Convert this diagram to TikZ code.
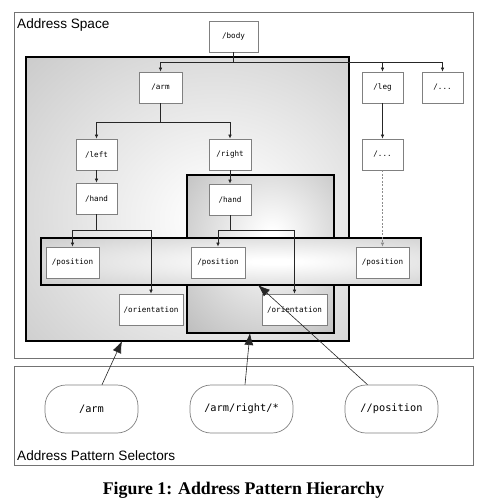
\documentclass[tikz,border=0pt]{standalone}
\usepackage{fontspec}
\setmainfont{Liberation Serif}
\setsansfont{Liberation Sans}
\setmonofont{DejaVu Sans Mono}
\usetikzlibrary{arrows.meta}
\definecolor{shW}{gray}{1}
\definecolor{shA}{gray}{0.78}
\definecolor{shB}{gray}{0.70}
\definecolor{shC}{gray}{0.72}
\definecolor{shD}{gray}{0.63}
\definecolor{boxline}{gray}{0.5}
\definecolor{frameline}{gray}{0.45}
\pgfdeclareradialshading{bigshade}{\pgfpoint{6bp}{-4bp}}{color(0bp)=(shW); color(3bp)=(shW); color(42bp)=(shA); color(75bp)=(shB)}
\pgfdeclareradialshading{rightshade}{\pgfpoint{4bp}{6bp}}{color(0bp)=(shW); color(2bp)=(shW); color(42bp)=(shC); color(75bp)=(shD)}
\pgfdeclareradialshading{posshade}{\pgfpoint{6bp}{0bp}}{color(0bp)=(shW); color(3bp)=(shW); color(42bp)=(shA); color(75bp)=(shB)}
\begin{document}
\begin{tikzpicture}[x=1pt,y=-1pt,
  frame/.style={draw=frameline,line width=0.6pt},
  region/.style={draw=black,line width=1.6pt,shade,inner sep=0pt,outer sep=0pt},
  abox/.style={draw=boxline,fill=white,line width=0.8pt,inner sep=0pt,minimum height=31pt,font=\ttfamily\fontsize{7.6}{9}\selectfont},
  selbox/.style={draw=boxline,fill=white,line width=0.7pt,rounded corners=21pt,inner sep=0pt,minimum height=48pt,font=\ttfamily\fontsize{10.3}{12}\selectfont},
  treeline/.style={draw=black!85,line width=0.6pt},
  treearrow/.style={treeline,-{Latex[length=4pt,width=3.6pt]}},
  bigarrow/.style={draw=black!85,line width=0.6pt,-{Latex[length=12pt,width=9pt]}},
  flabel/.style={anchor=base west,inner sep=0pt,font=\sffamily\fontsize{13.6}{15}\selectfont}]
\useasboundingbox (0,0) rectangle (504,498);
\fill[white] (0,0) rectangle (504,498);
% frames
\node[frame,minimum width=459pt,minimum height=346pt,inner sep=0pt] (space) at (243.5,185) {};
\node[frame,minimum width=459pt,minimum height=99pt,inner sep=0pt] (selectors) at (243.5,415.5) {};
\node[flabel] (spacelabel) at (17,28) {Address Space};
\node[flabel] (sellabel) at (17,460) {Address Pattern Selectors};
% regions
\node[region,shading=bigshade,minimum width=323pt,minimum height=284pt] (big) at (187.5,199) {};
\node[region,shading=rightshade,minimum width=147pt,minimum height=158pt] (rightreg) at (260.5,254) {};
\node[region,shading=posshade,minimum width=380pt,minimum height=47pt] (posreg) at (231,261.5) {};
% boxes
\node[abox,minimum width=49pt] (body) at (233.5,36.5) {/body};
\node[abox,minimum width=43pt] (arm) at (160.5,87.5) {/arm};
\node[abox,minimum width=41pt] (leg) at (382.5,87.5) {/leg};
\node[abox,minimum width=41pt] (dotsA) at (442.5,87.5) {/...};
\node[abox,minimum width=41pt] (left) at (96.5,154.5) {/left};
\node[abox,minimum width=42pt] (right) at (230,154.5) {/right};
\node[abox,minimum width=41pt] (dotsB) at (382.5,154.5) {/...};
\node[abox,minimum width=41pt] (handL) at (96.5,198.5) {/hand};
\node[abox,minimum width=42pt] (handR) at (230,199.5) {/hand};
\node[abox,minimum width=53pt] (posL) at (72.5,262.5) {/position};
\node[abox,minimum width=54pt] (posM) at (218,262.5) {/position};
\node[abox,minimum width=53pt] (posR) at (382.5,262.5) {/position};
\node[abox,minimum width=64pt] (oriL) at (151,309.5) {/orientation};
\node[abox,minimum width=65pt] (oriR) at (294.5,309.5) {/orientation};
% tree connectors
\coordinate (j1) at (233.5,62);
\coordinate (j2) at (160.5,122);
\coordinate (j3) at (96.5,230);
\coordinate (j4) at (230,230);
\draw[treeline] (body.south) -- (j1);
\draw[treearrow] (j1) -| (arm.north);
\draw[treearrow] (j1) -| (leg.north);
\draw[treearrow] (j1) -| (dotsA.north);
\draw[treeline] (arm.south) -- (j2);
\draw[treearrow] (j2) -| (left.north);
\draw[treearrow] (j2) -| (right.north);
\draw[treearrow] (left.south) -- (handL.north);
\draw[treearrow] (right.south) -- (handR.north);
\draw[treearrow] (leg.south) -- (dotsB.north);
\draw[treearrow,draw=black!45,dashed,dash pattern=on 2pt off 1.5pt] (dotsB.south) -- (posR.north);
\draw[treeline] (handL.south) -- (j3);
\draw[treearrow] (j3) -| (posL.north);
\draw[treearrow] (j3) -| (oriL.north);
\draw[treeline] (handR.south) -- (j4);
\draw[treearrow] (j4) -| (posM.north);
\draw[treearrow] (j4) -| (oriR.north);
% selectors
\node[selbox,minimum width=93pt] (selA) at (91.5,409) {/arm};
\node[selbox,minimum width=103pt] (selB) at (241.5,409) {/arm/right/*};
\node[selbox,minimum width=93pt] (selC) at (391.5,409) {//position};
\draw[bigarrow] ([xshift=10.5pt]selA.north) -- ([xshift=-65.5pt]big.south);
\draw[bigarrow] ([xshift=3.5pt]selB.north) -- ([xshift=-10.5pt]rightreg.south);
\draw[bigarrow] ([xshift=-24pt]selC.north) -- ([xshift=27pt]posreg.south);
% caption
\node[anchor=base,inner sep=0pt,font=\bfseries\fontsize{17.8}{20}\selectfont] (caption) at (243.5,494) {Figure 1: Address Pattern Hierarchy};
\end{tikzpicture}
\end{document}
